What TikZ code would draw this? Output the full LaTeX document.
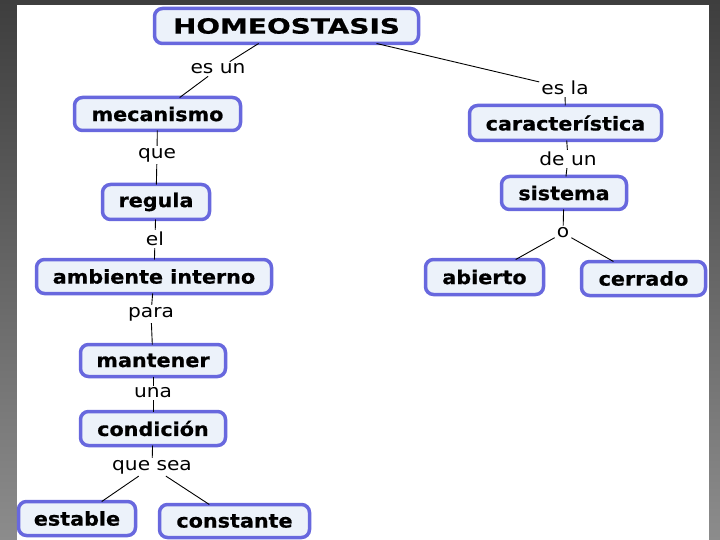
\documentclass[tikz,border=0pt]{standalone}
\usepackage{fontspec}
\setmainfont{DejaVu Sans}
\newfontfamily\fuenteconcepto[FakeStretch=1.09, BoldFeatures={FakeBold=0.6}]{DejaVu Sans}
\newfontfamily\fuentetitulo[FakeStretch=1.33, BoldFeatures={FakeBold=0.6}]{DejaVu Sans}
\newfontfamily\fuenteenlace[FakeStretch=1.12]{DejaVu Sans}
\definecolor{borde}{RGB}{104,104,222}
\definecolor{relleno}{RGB}{236,242,250}
\definecolor{marcoarriba}{RGB}{62,62,62}
\definecolor{marcoabajo}{RGB}{140,140,140}
\tikzset{
  concepto/.style={draw=borde, fill=relleno, line width=3.5pt, rounded corners=8pt,
    inner sep=0pt, outer sep=0pt, font=\fuenteconcepto\fontsize{19}{22}\selectfont\bfseries},
  enlace/.style={inner sep=2pt, font=\fuenteenlace\fontsize{18}{20}\selectfont},
  linea/.style={line width=0.9pt, black}
}
\begin{document}
\begin{tikzpicture}[x=1pt, y=-1pt]
  \useasboundingbox (0,0) rectangle (720,540);
  % marco gris y hoja blanca
  \shade[top color=marcoarriba, bottom color=marcoabajo] (0,0) rectangle (720,540);
  \fill[white] (17,5) rectangle (709,540);
  % conceptos, columna izquierda
  \node[concepto, minimum width=264, minimum height=35, font=\fuentetitulo\fontsize{21}{24}\selectfont\bfseries]
    (homeo) at (286.5,26) {HOMEOSTASIS};
  \node[concepto, minimum width=166, minimum height=33] (mecanismo) at (157.5,114) {mecanismo};
  \node[concepto, minimum width=107, minimum height=35] (regula) at (156,202) {regula};
  \node[concepto, minimum width=235, minimum height=34] (ambiente) at (154,276.5) {ambiente interno};
  \node[concepto, minimum width=145, minimum height=32] (mantener) at (153,360.5) {mantener};
  \node[concepto, minimum width=145, minimum height=34] (condicion) at (153,428.5) {condición};
  \node[concepto, minimum width=117, minimum height=34] (estable) at (77,518.5) {estable};
  \node[concepto, minimum width=150, minimum height=33] (constante) at (234.5,521) {constante};
  % conceptos, columna derecha
  \node[concepto, minimum width=192, minimum height=35] (caract) at (565.5,123) {característica};
  \node[concepto, minimum width=125, minimum height=33] (sistema) at (564,193) {sistema};
  \node[concepto, minimum width=118, minimum height=35] (abierto) at (484.5,277) {abierto};
  \node[concepto, minimum width=124, minimum height=34] (cerrado) at (643.5,278.5) {cerrado};
  % palabras de enlace
  \node[enlace] (esun) at (218,69) {es un};
  \node[enlace] (que) at (157,155) {que};
  \node[enlace] (el) at (155,239) {el};
  \node[enlace] (para) at (151,314) {para};
  \node[enlace] (una) at (153,393) {una};
  \node[enlace] (quesea) at (152,467) {que sea};
  \node[enlace] (esla) at (565,88) {es la};
  \node[enlace] (deun) at (568,159) {de un};
  \node[enlace] (o) at (563,233) {o};
  % lineas
  \draw[linea] (homeo) -- (esun);
  \draw[linea] (esun) -- (mecanismo);
  \draw[linea] (mecanismo) -- (que);
  \draw[linea] (que) -- (regula);
  \draw[linea] (regula) -- (el);
  \draw[linea] (el) -- (ambiente);
  \draw[linea] (ambiente) -- (para);
  \draw[linea] (para) -- (mantener);
  \draw[linea] (mantener) -- (una);
  \draw[linea] (una) -- (condicion);
  \draw[linea] (condicion) -- (quesea);
  \draw[linea] (quesea) -- (estable);
  \draw[linea] (quesea) -- (constante);
  \draw[linea] (homeo.-11) -- (esla);
  \draw[linea] (esla) -- (caract);
  \draw[linea] (caract) -- (deun);
  \draw[linea] (deun) -- (sistema);
  \draw[linea] (sistema) -- (o);
  \draw[linea] (o) -- (abierto);
  \draw[linea] (o) -- (cerrado);
\end{tikzpicture}
\end{document}
